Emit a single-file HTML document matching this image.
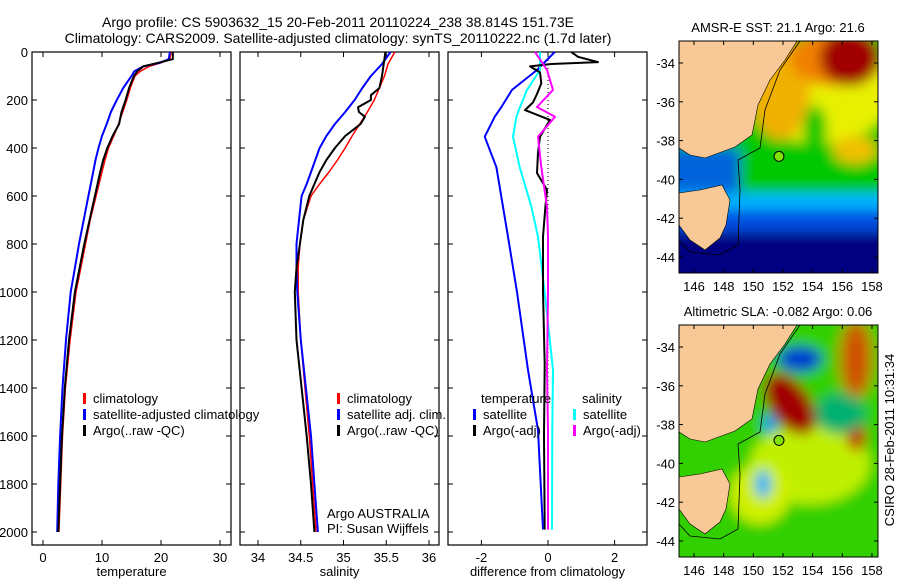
<!DOCTYPE html>
<html><head><meta charset="utf-8"><style>
html,body{margin:0;padding:0;background:#fff;}
svg text{font-family:"Liberation Sans",sans-serif;fill:#000;}
</style></head><body>
<svg id="c" width="900" height="580" xmlns="http://www.w3.org/2000/svg">
<text x="338" y="27" font-size="14" text-anchor="middle">Argo profile: CS 5903632_15 20-Feb-2011 20110224_238 38.814S 151.73E</text>
<text x="338" y="43" font-size="14" text-anchor="middle">Climatology: CARS2009. Satellite-adjusted climatology: synTS_20110222.nc (1.7d later)</text>
<g id="maps"></g>
<g id="panels"></g>
<text transform="translate(894,440) rotate(-90)" font-size="13" text-anchor="middle">CSIRO 28-Feb-2011 10:31:34</text>
</svg>
<script>
// ---------- data ----------
const tDepths = [0,30,45,60,80,100,150,200,250,300,350,400,450,500,600,700,800,900,1000,1200,1400,1600,1800,2000];
const tempClim = [21.7,21.5,20,18,16.5,15.6,14.8,14.2,13.5,12.8,12,11.1,10.5,10,9.0,8.0,7.2,6.4,5.6,4.6,3.8,3.3,3.0,2.7];
const tempSat  = [21.5,21.3,19.8,17,15.5,15,13.6,12.5,11.5,10.8,10,9.4,8.9,8.5,7.7,6.9,6.1,5.4,4.7,3.9,3.3,2.9,2.6,2.4];
const tempArgo = [22,22,19.5,17,16,15.4,14.6,14,13.3,12.9,11.8,10.9,10.2,9.7,8.8,7.9,7.0,6.2,5.4,4.4,3.7,3.2,2.9,2.6];
const sDepths = [0,50,100,150,200,250,300,350,400,450,500,550,600,700,800,900,1000,1200,1400,1600,1800,2000];
const salClim = [35.6,35.52,35.48,35.42,35.36,35.28,35.19,35.1,35.02,34.93,34.83,34.72,34.62,34.53,34.49,34.47,34.47,34.5,34.55,34.6,34.64,34.68];
const salSat  = [35.55,35.45,35.32,35.22,35.13,35.02,34.9,34.8,34.72,34.67,34.62,34.57,34.51,34.48,34.45,34.45,34.46,34.5,34.56,34.62,34.66,34.7];
const salDepthsArgo = [0,50,100,150,180,200,230,250,270,300,350,400,450,500,550,600,700,800,900,1000,1200,1400,1600,1800,2000];
const salArgo = [35.49,35.47,35.45,35.42,35.32,35.32,35.17,35.18,35.25,35.2,35.02,34.9,34.8,34.72,34.66,34.6,34.53,34.49,34.45,34.43,34.45,34.51,34.57,34.62,34.66];
const diffDepthsT = [0,20,42,50,60,85,130,175,210,242,283,320,353,420,504,575,650,770,1000,1300,1600,1990];
const diffTArgo = [0.7,0.9,1.5,0.1,-0.54,-0.24,-0.2,-0.33,-0.45,-0.69,0.06,-0.1,-0.24,-0.3,-0.33,-0.03,-0.08,-0.15,-0.15,-0.1,-0.12,-0.1];
const diffDepths = [0,75,158,229,270,353,480,645,770,1000,1325,1575,1990];
const diffTSat = [0.2,-0.33,-1.08,-1.4,-1.6,-1.9,-1.55,-1.35,-1.2,-0.93,-0.6,-0.3,-0.15];
const diffSSat = [-0.24,-0.24,-0.63,-0.84,-0.95,-1.05,-0.85,-0.5,-0.3,-0.1,0.15,0.13,0.12];
const diffSArgo = [-0.39,-0.03,0.15,-0.33,0.21,-0.3,-0.2,-0.03,0.0,0.0,-0.03,0.0,0.0];
const depthTicks = [0,200,400,600,800,1000,1200,1400,1600,1800,2000];
const tempTicks = [0,10,20,30];
const salTicks = [34,34.5,35,35.5,36];
const diffTicks = [-2,0,2];
const latTicks = [-34,-36,-38,-40,-42,-44];
const lonTicks = [146,148,150,152,154,156,158];
const argoLon = 151.73, argoLat = -38.814;

// ---------- helpers ----------
const NS="http://www.w3.org/2000/svg";
function mk(tag, attrs, parent){const e=document.createElementNS(NS,tag);for(const k in attrs)e.setAttribute(k,attrs[k]);parent.appendChild(e);return e;}
const yD = d => 52 + d*0.24;
const P = document.getElementById('panels');
const panels = [
 {x0:32,x1:231,f:v=>43+v*5.9,ticks:tempTicks,label:'temperature',name:'temperature-panel'},
 {x0:240,x1:439,f:v=>258+(v-34)*85.5,ticks:salTicks,label:'salinity',name:'salinity-panel'},
 {x0:448,x1:647,f:v=>548+v*33.3,ticks:diffTicks,label:'difference from climatology',name:'difference-panel'}
];
function line(g,f,ds,vs,color,w,name){
  const pts=ds.map((d,i)=>f(vs[i]).toFixed(1)+','+yD(d).toFixed(1)).join(' ');
  const p=mk('polyline',{points:pts,fill:'none',stroke:color,'stroke-width':w,'stroke-linejoin':'round'},g);
  
  
}
panels.forEach((pn,pi)=>{
  const g=mk('g',{},P);
  
  
  mk('rect',{x:pn.x0,y:52,width:pn.x1-pn.x0,height:493,fill:'none',stroke:'#000','stroke-width':1.2},g);
  depthTicks.forEach(d=>{
    mk('line',{x1:pn.x0,x2:pn.x0+5,y1:yD(d),y2:yD(d),stroke:'#000'},g);
    mk('line',{x1:pn.x1,x2:pn.x1-5,y1:yD(d),y2:yD(d),stroke:'#000'},g);
    if(pi===0){const t=mk('text',{x:28,y:yD(d)+5,'font-size':13,'text-anchor':'end'},g);t.textContent=d;
      
      }
  });
  pn.ticks.forEach(v=>{
    const x=pn.f(v);
    mk('line',{x1:x,x2:x,y1:52,y2:57,stroke:'#000'},g);
    mk('line',{x1:x,x2:x,y1:545,y2:540,stroke:'#000'},g);
    const t=mk('text',{x:x,y:562,'font-size':13,'text-anchor':'middle'},g);t.textContent=v;
    
    
  });
  const xl=mk('text',{x:(pn.x0+pn.x1)/2,y:576,'font-size':13,'text-anchor':'middle'},g);xl.textContent=pn.label;
  
  
  pn.g=g;
});
line(panels[0].g,panels[0].f,tDepths,tempClim,'#f00',1.5,'temp-climatology-line');
line(panels[0].g,panels[0].f,tDepths,tempSat,'#00f',2,'temp-satellite-line');
line(panels[0].g,panels[0].f,tDepths,tempArgo,'#000',2,'temp-argo-line');
line(panels[1].g,panels[1].f,sDepths,salClim,'#f00',1.5,'sal-climatology-line');
line(panels[1].g,panels[1].f,sDepths,salSat,'#00f',2,'sal-satellite-line');
line(panels[1].g,panels[1].f,salDepthsArgo,salArgo,'#000',2,'sal-argo-line');
const zl=mk('line',{x1:548,x2:548,y1:52,y2:532,stroke:'#000','stroke-dasharray':'1,3'},panels[2].g);


line(panels[2].g,panels[2].f,diffDepths,diffTSat,'#00f',2,'diff-temp-satellite-line');
line(panels[2].g,panels[2].f,diffDepths,diffSSat,'#0ff',2,'diff-sal-satellite-line');
line(panels[2].g,panels[2].f,diffDepthsT,diffTArgo,'#000',2,'diff-temp-argo-line');
line(panels[2].g,panels[2].f,diffDepths,diffSArgo,'#f0f',2,'diff-sal-argo-line');

function leg(g,x,y,color,text,name){
  if(color){mk('rect',{x:x,y:y-10,width:3,height:11,fill:color},g);}
  const t=mk('text',{x:x+(color?10:0),y:y,'font-size':13},g);t.textContent=text;
  
  
}
leg(panels[0].g,83,403,'#f00','climatology','legend-climatology');
leg(panels[0].g,83,419,'#00f','satellite-adjusted climatology','legend-satellite');
leg(panels[0].g,83,435,'#000','Argo(..raw -QC)','legend-argo');
leg(panels[1].g,337,403,'#f00','climatology','legend-climatology');
leg(panels[1].g,337,419,'#00f','satellite adj. clim.','legend-satellite');
leg(panels[1].g,337,435,'#000','Argo(..raw -QC)','legend-argo');
leg(panels[1].g,327,518,null,'Argo AUSTRALIA','argo-australia-label');
leg(panels[1].g,327,533,null,'PI: Susan Wijffels','pi-label');
leg(panels[2].g,481,403,null,'temperature','legend-temperature-head');
leg(panels[2].g,473,419,'#00f','satellite','legend-temp-satellite');
leg(panels[2].g,473,435,'#000','Argo(-adj)','legend-temp-argo');
leg(panels[2].g,582,403,null,'salinity','legend-salinity-head');
leg(panels[2].g,573,419,'#0ff','satellite','legend-sal-satellite');
leg(panels[2].g,573,435,'#f0f','Argo(-adj)','legend-sal-argo');

// ---------- maps ----------
const M=document.getElementById('maps');
const defs=mk('defs',{},M);
const flt=mk('filter',{id:'bl',x:'-50%',y:'-50%',width:'200%',height:'200%'},defs);
mk('feGaussianBlur',{stdDeviation:6},flt);
function map(top,title,kind){
  const g=mk('g',{},M);
  
  
  const lonX=l=>694+(l-146)*14.83, latY=l=>top+22+(-34-l)*19.4;
  const cp=mk('clipPath',{id:'cp'+kind},defs);
  mk('rect',{x:679,y:top,width:199,height:232},cp);
  const c=mk('g',{'clip-path':'url(#cp'+kind+')'},g);
  const b=mk('g',{filter:'url(#bl)'},c);
  const T=top-41;
  if(kind==='sst'){
    mk('rect',{x:660,y:top-20,width:240,height:280,fill:'#00c800'},b);
    mk('rect',{x:660,y:T+193,width:240,height:30,fill:'#00b4ff'},b);
    mk('rect',{x:660,y:T+210,width:240,height:80,fill:'#0050e0'},b);
    mk('rect',{x:660,y:T+232,width:240,height:80,fill:'#000080'},b);
    mk('rect',{x:660,y:T+148,width:80,height:45,fill:'#0064dc'},b);
    mk('ellipse',{cx:820,cy:T+92,rx:72,ry:52,fill:'#e8f000'},b);
    mk('ellipse',{cx:780,cy:T+90,rx:30,ry:50,fill:'#f0b000'},b);
    mk('ellipse',{cx:855,cy:T+150,rx:22,ry:14,fill:'#f0c000'},b);
    mk('ellipse',{cx:835,cy:T+58,rx:45,ry:28,fill:'#f08000'},b);
    mk('ellipse',{cx:850,cy:T+58,rx:30,ry:28,fill:'#a00000'},b);
    mk('ellipse',{cx:815,cy:T+130,rx:12,ry:25,fill:'#00c800'},b);
  } else {
    mk('rect',{x:660,y:top-20,width:240,height:280,fill:'#30d000'},b);
    mk('ellipse',{cx:810,cy:T+180,rx:60,ry:40,fill:'#c0f000'},b);
    mk('ellipse',{cx:760,cy:T+210,rx:30,ry:30,fill:'#d0f000'},b);
    mk('ellipse',{cx:800,cy:T+75,rx:22,ry:13,fill:'#0040d0'},b);
    mk('ellipse',{cx:856,cy:T+75,rx:12,ry:35,fill:'#a00000'},b);
    mk('ellipse',{cx:856,cy:T+75,rx:20,ry:42,fill:'#f08000','opacity':0.6},b);
    mk('ellipse',{cx:790,cy:T+120,rx:20,ry:35,fill:'#a00000',transform:'rotate(-35 790 '+(T+120)+')'},b);
    mk('ellipse',{cx:856,cy:T+152,rx:10,ry:15,fill:'#c04000'},b);
    mk('ellipse',{cx:770,cy:T+140,rx:6,ry:10,fill:'#0090ff'},b);
    mk('ellipse',{cx:763,cy:T+200,rx:8,ry:14,fill:'#00b0ff'},b);
    mk('ellipse',{cx:840,cy:T+130,rx:25,ry:20,fill:'#00b070'},b);
  }
  const land=mk('path',{d:'M679,'+top+' L797,'+top+' L785,'+(T+60)+' L770,'+(T+80)+' L758,'+(T+105)+' L752,'+(T+135)+' L735,'+(T+147)+' L705,'+(T+158)+' L690,'+(T+155)+' L679,'+(T+148)+' Z M679,'+(T+193)+' L700,'+(T+190)+' L722,'+(T+185)+' L730,'+(T+200)+' L726,'+(T+225)+' L720,'+(T+238)+' L705,'+(T+250)+' L690,'+(T+240)+' L679,'+(T+225)+' Z',fill:'#f8c896',stroke:'#000','stroke-width':0.6},c);
  
  
  mk('path',{d:'M800,'+top+' L780,'+(T+70)+' L765,'+(T+110)+' L760,'+(T+148)+' L738,'+(T+160)+' L740,'+(T+190)+' L738,'+(T+245)+' L720,'+(T+255)+' L690,'+(T+252)+' L679,'+(T+240),fill:'none',stroke:'#000','stroke-width':0.8},c);
  mk('rect',{x:679,y:top,width:199,height:232,fill:'none',stroke:'#000'},g);
  const dot=mk('circle',{cx:lonX(argoLon),cy:latY(argoLat),r:5,fill:'#80e000',stroke:'#000'},g);
  
  
  latTicks.forEach(l=>{const y=latY(l);
    mk('line',{x1:679,x2:683,y1:y,y2:y,stroke:'#000'},g);mk('line',{x1:878,x2:874,y1:y,y2:y,stroke:'#000'},g);
    const t=mk('text',{x:675,y:y+5,'font-size':13,'text-anchor':'end'},g);t.textContent=l;
    
    });
  lonTicks.forEach(l=>{const x=lonX(l);
    mk('line',{x1:x,x2:x,y1:top,y2:top+4,stroke:'#000'},g);mk('line',{x1:x,x2:x,y1:top+232,y2:top+228,stroke:'#000'},g);
    const t=mk('text',{x:x,y:top+250,'font-size':13,'text-anchor':'middle'},g);t.textContent=l;
    
    });
  const tt=mk('text',{x:778,y:top-9,'font-size':13,'text-anchor':'middle'},g);tt.textContent=title;
  
  
}
map(41,'AMSR-E SST: 21.1 Argo: 21.6','sst');
map(325,'Altimetric SLA: -0.082 Argo: 0.06','sla');
</script>
</body></html>
